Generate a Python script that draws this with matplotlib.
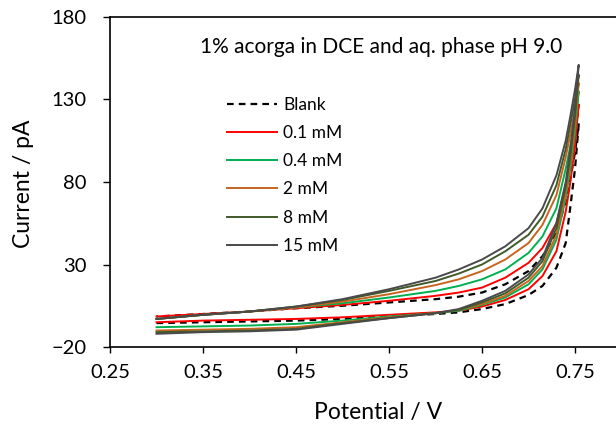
import matplotlib
matplotlib.use("Agg")
import matplotlib.pyplot as plt

plt.rcParams['font.family'] = ['Lato', 'DejaVu Sans']

# Potential grid (V) used for both scan branches
potential = [0.30, 0.35, 0.40, 0.45, 0.50, 0.55, 0.60, 0.625, 0.65, 0.675, 0.70, 0.715,
             0.73, 0.74, 0.745, 0.75, 0.754]

labels = ["Blank", "0.1 mM", "0.4 mM", "2 mM", "8 mM", "15 mM"]
colors = ["#000000", "#FF0000", "#00B050", "#C8641E", "#3F5A28", "#4A4A4A"]
styles = ["--", "-", "-", "-", "-", "-"]

# forward (lower) branch currents, pA
fwd_blank = [-5.5, -5, -4.5, -4, -3, -1.5, 0, 1, 3, 6, 11.5, 17, 28, 43, 65, 88, 115]
fwd_01 = [-5, -4, -3.5, -3, -2, -0.5, 1, 2, 4.5, 8.5, 15, 23, 38, 62, 80, 102, 127]
fwd_04 = [-8, -7.5, -7, -6, -4, -1.5, 0.5, 2, 5.5, 10, 18, 27, 45, 70, 88, 110, 135]
fwd_2 = [-10, -9.5, -9, -8, -5, -2, 0.5, 2.5, 6, 11, 20, 29, 48, 73, 92, 115, 140]
fwd_8 = [-11, -10.5, -10, -9, -5.5, -2.5, 0.5, 2.5, 7, 12.5, 22, 32, 52, 77, 96, 120, 145]
fwd_15 = [-12, -11, -10.5, -9.5, -6, -2.5, 0.5, 3, 8, 14, 24, 34, 55, 80, 100, 125, 151]

# reverse (upper) branch currents, pA
rev_blank = [-1.5, 0, 1.5, 3.5, 5, 7, 9, 10.5, 13, 18, 26, 35, 49, 68, 82, 98, 115]
rev_01 = [-1.5, 0, 1.5, 3.5, 5.5, 8, 11, 13, 16, 22, 31, 40, 55, 78, 92, 108, 127]
rev_04 = [-3, -0.5, 1.5, 4, 6.5, 10, 14, 17, 21, 27, 37, 47, 64, 88, 102, 118, 135]
rev_2 = [-3, -0.5, 1.5, 4, 7.5, 12, 17.5, 21, 26, 33, 43, 54, 72, 95, 109, 124, 140]
rev_8 = [-3, -0.5, 1.5, 4.5, 8.5, 14, 20, 24.5, 30, 38, 48, 59, 78, 100, 115, 130, 145]
rev_15 = [-3, -0.5, 1.5, 4.5, 9, 15, 22, 27, 33, 41, 52, 64, 84, 105, 120, 136, 151]

forward = [fwd_blank, fwd_01, fwd_04, fwd_2, fwd_8, fwd_15]
reverse = [rev_blank, rev_01, rev_04, rev_2, rev_8, rev_15]

W, H = 616, 434
fig = plt.figure(figsize=(W / 100, H / 100), dpi=100)
ax = fig.add_axes([110 / W, 87 / H, (621.5 - 110) / W, 330 / H])

for lab, col, ls, f, r in zip(labels, colors, styles, forward, reverse):
    xs = potential + potential[::-1]
    ys = f + r[::-1]
    if ls == "--":
        ax.plot(xs, ys, color=col, lw=1.6, ls="--", dashes=(3, 2.3), label=lab)
    else:
        ax.plot(xs, ys, color=col, lw=1.4, label=lab)

ax.set_xlim(0.25, 0.80)
ax.set_ylim(-20, 180)
ax.set_xticks([0.25, 0.35, 0.45, 0.55, 0.65, 0.75])
ax.set_xticklabels(["0.25", "0.35", "0.45", "0.55", "0.65", "0.75"])
ax.set_yticks([-20, 30, 80, 130, 180])
ax.tick_params(axis="x", direction="out", length=4, width=1, labelsize=14.5, pad=8)
ax.tick_params(axis="y", direction="out", length=5, width=1, labelsize=14.5, pad=12)
for s in ax.spines.values():
    s.set_linewidth(1.2)
    s.set_color("#000000")

fig.text(24 / W, 1 - 184 / H, "Current / pA", rotation=90, ha="center", va="center",
         fontsize=16.5)
fig.text(378 / W, 1 - 413 / H, "Potential / V", ha="center", va="center", fontsize=16.5)

fig.text(200 / W, 1 - 47 / H, "1% acorga in DCE and aq. phase pH 9.0",
         ha="left", va="center", fontsize=15)

leg = ax.legend(loc="upper left", bbox_to_anchor=(227 / W, 1 - 97 / H),
                bbox_transform=fig.transFigure, frameon=False, fontsize=12.5,
                handlelength=2.87, handletextpad=0.35, labelspacing=0.70,
                borderaxespad=0, borderpad=0)

fig.savefig("out.png", dpi=100)
